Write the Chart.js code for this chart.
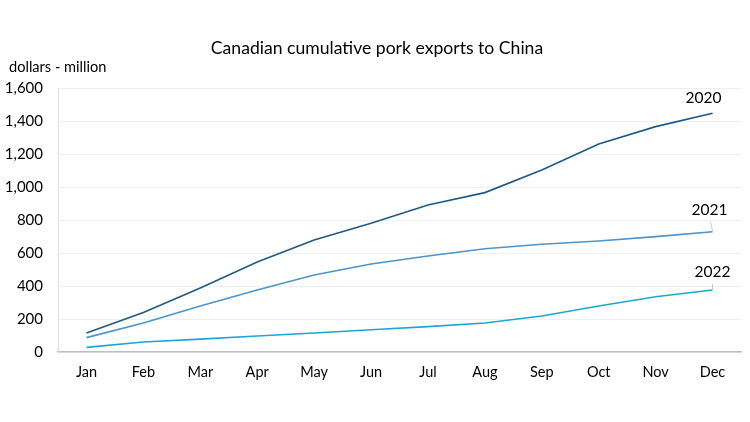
<!DOCTYPE html>
<html>
<head>
<meta charset="utf-8">
<script src="https://cdn.jsdelivr.net/npm/chart.js@4/dist/chart.umd.min.js"></script>
<style>
  html, body { margin: 0; padding: 0; background: #fff; overflow: hidden; }
  canvas { display: block; }
</style>
</head>
<body>
<canvas id="porkExports" width="750" height="422"></canvas>
<script>
// data (dollars - million, cumulative)
const months = ["Jan", "Feb", "Mar", "Apr", "May", "Jun", "Jul", "Aug", "Sep", "Oct", "Nov", "Dec"];
const exports2020 = [115, 240, 388, 545, 679, 780, 891, 966, 1103, 1261, 1366, 1447];
const exports2021 = [87, 176, 279, 376, 467, 533, 582, 626, 653, 673, 699, 729];
const exports2022 = [28, 61, 78, 97, 115, 135, 154, 176, 218, 279, 335, 376];
const yTicks = [0, 200, 400, 600, 800, 1000, 1200, 1400, 1600];

Chart.defaults.font.family = "'Lato','sans-serif'";
Chart.defaults.color = "#000";

// title, axis title and end-of-line labels
const annotations = {
  id: "annotations",
  afterDraw(chart) {
    const ctx = chart.ctx;
    const x = chart.scales.x;
    const y = chart.scales.y;
    ctx.save();
    ctx.fillStyle = "#000";
    ctx.font = "17.6px Lato";
    ctx.textAlign = "center";
    ctx.textBaseline = "middle";
    ctx.fillText("Canadian cumulative pork exports to China", 377, 48);
    ctx.font = "14.6px Lato";
    ctx.textAlign = "left";
    ctx.fillText("dollars - million", 9, 67);

    const last = months.length - 1;
    const px = x.getPixelForValue(last);
    ctx.font = "15.5px Lato";
    ctx.textAlign = "center";
    // 2020
    ctx.fillText("2020", px - 9, y.getPixelForValue(exports2020[last]) - 15);
    // 2021 with leader line
    let py = y.getPixelForValue(exports2021[last]);
    ctx.strokeStyle = "#c8c8c8";
    ctx.lineWidth = 1;
    ctx.beginPath();
    ctx.moveTo(px, py - 1);
    ctx.lineTo(px - 2, py - 10);
    ctx.stroke();
    ctx.fillText("2021", px - 3, py - 22);
    // 2022 with leader line
    py = y.getPixelForValue(exports2022[last]);
    ctx.beginPath();
    ctx.moveTo(px, py - 1);
    ctx.lineTo(px, py - 6);
    ctx.stroke();
    ctx.fillText("2022", px, py - 18);
    ctx.restore();
  }
};

const ctx = document.getElementById("porkExports").getContext("2d");
new Chart(ctx, {
  type: "line",
  data: {
    labels: months,
    datasets: [
      { label: "2020", data: exports2020, borderColor: "#1f5a85", borderWidth: 1.6, pointRadius: 0, tension: 0 },
      { label: "2021", data: exports2021, borderColor: "#4d94c8", borderWidth: 1.6, pointRadius: 0, tension: 0 },
      { label: "2022", data: exports2022, borderColor: "#1ba7d2", borderWidth: 1.6, pointRadius: 0, tension: 0 },
    ],
  },
  options: {
    responsive: false,
    animation: false,
    devicePixelRatio: 1,
    layout: { padding: { top: 88, right: 9, bottom: 40, left: 0 } },
    plugins: {
      legend: { display: false },
      title: { display: false },
      tooltip: { enabled: false },
    },
    scales: {
      x: {
        offset: true,
        grid: { display: false, drawTicks: false },
        border: { display: true, color: "#bfbfbf", width: 1.5 },
        ticks: { padding: 12, font: { size: 14.5 }, autoSkip: false, maxRotation: 0 },
        afterFit(scale) { scale.height = 30; },
      },
      y: {
        min: 0,
        max: 1600,
        afterBuildTicks(scale) { scale.ticks = yTicks.map(v => ({ value: v })); },
        grid: { color: "#efefef", drawTicks: false },
        border: { display: true, color: "#e0e0e0" },
        ticks: {
          padding: 15,
          font: { size: 15 },
          callback: v => v.toLocaleString("en-US"),
        },
        afterFit(scale) { scale.width = 58; },
      },
    },
  },
  plugins: [annotations],
});
</script>
</body>
</html>
